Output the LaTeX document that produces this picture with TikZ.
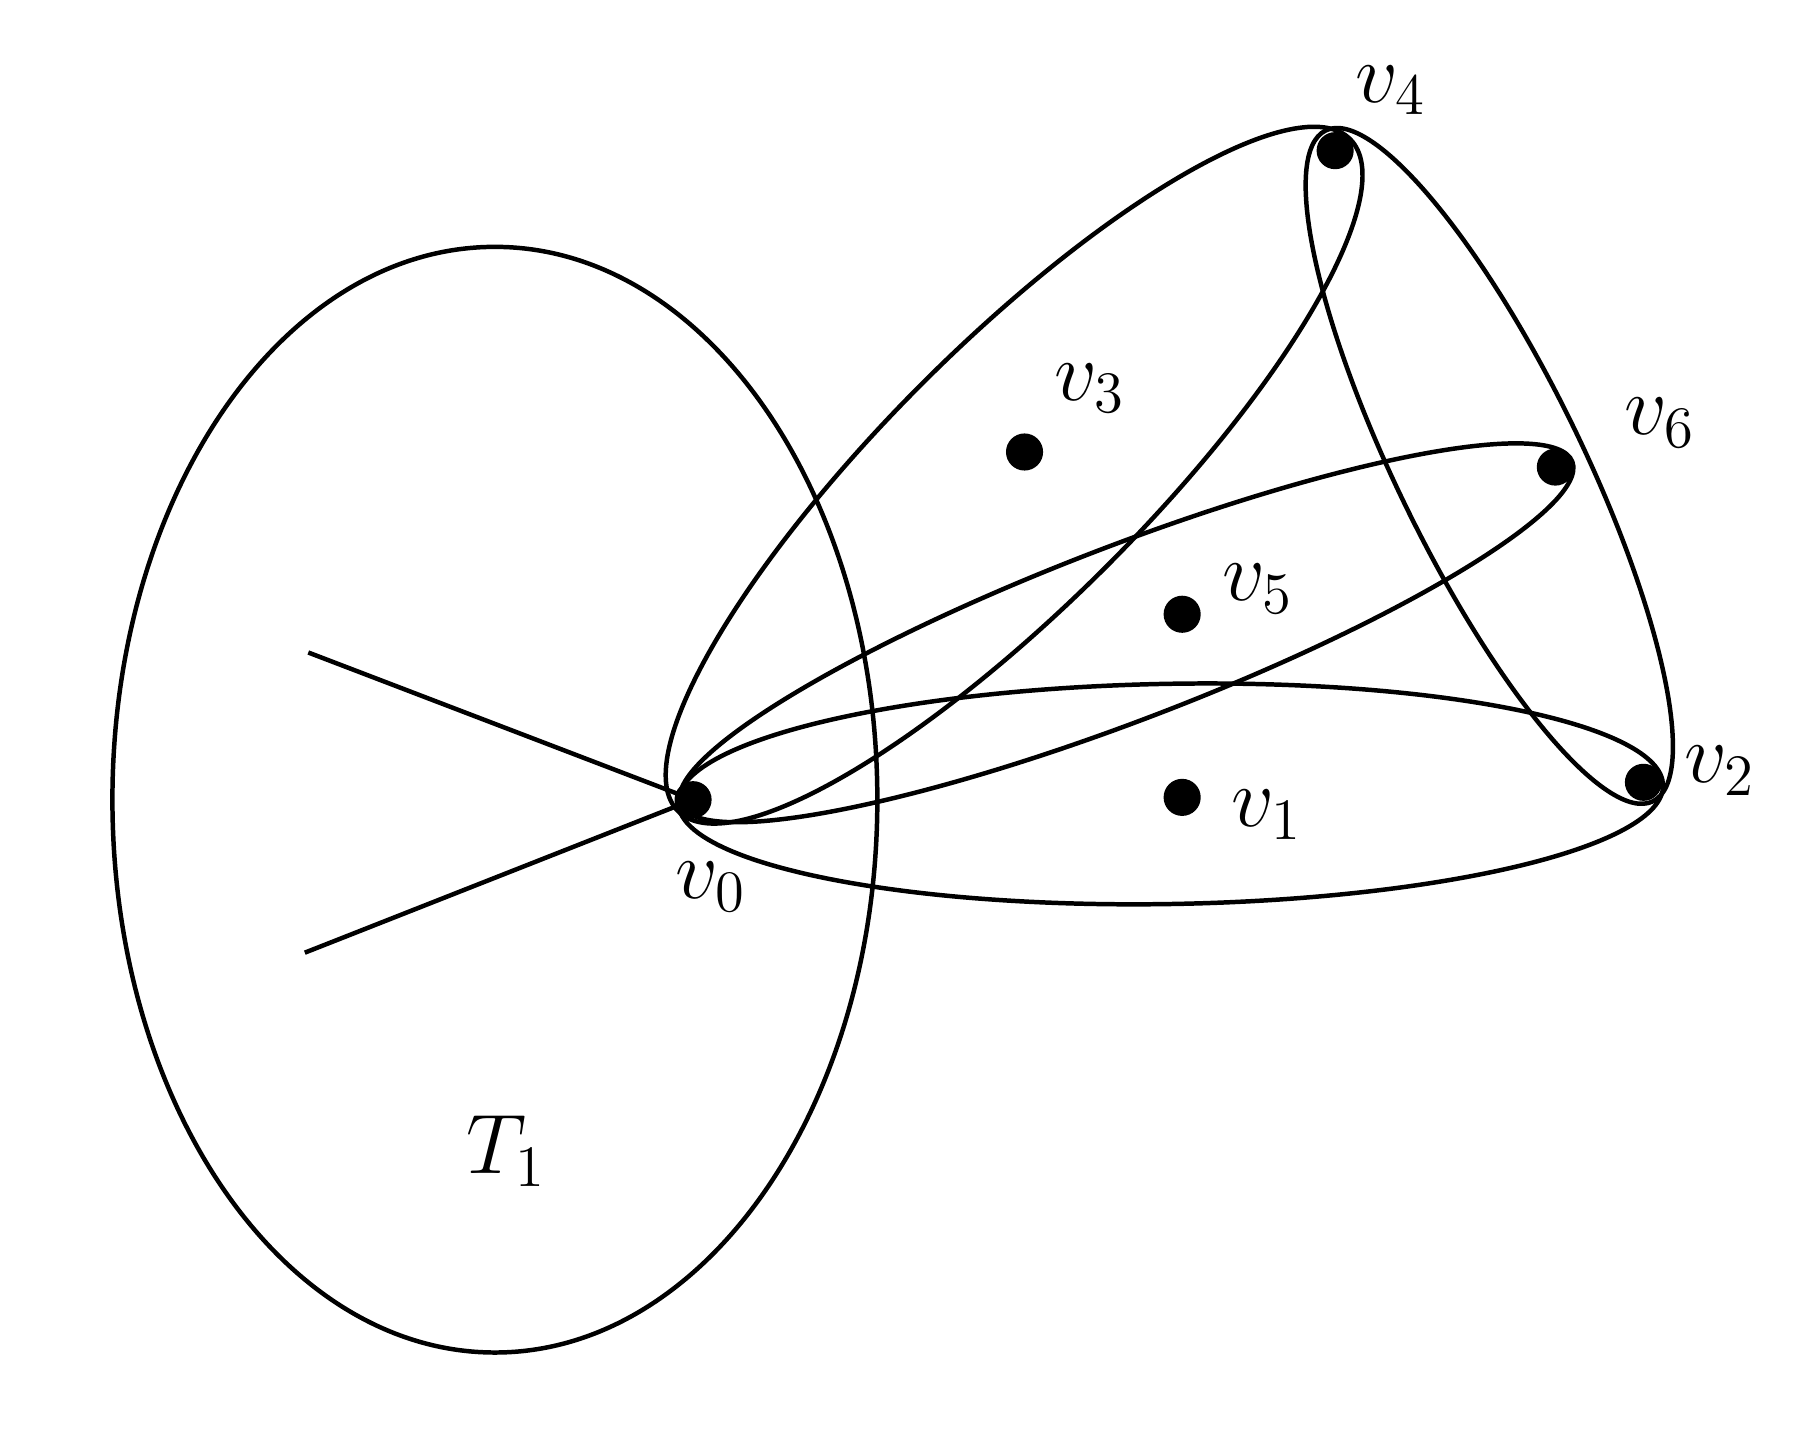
\documentclass[tikz,border=0pt]{standalone}
\usepackage{tikz}
\usetikzlibrary{positioning}

\begin{document}
\begin{tikzpicture}
    [x=0.01cm,y=-0.01cm,line width=1.1pt,
     vert/.style={circle,fill=black,inner sep=0pt,minimum size=0.32cm},
     lab/.style={font=\fontsize{21}{25}\selectfont}]

    \useasboundingbox (0,0) rectangle (1560,1243);

    % vertices
    \node[vert] (v0) at (598,690) {};
    \node[vert] (v1) at (1020,688) {};
    \node[vert] (v2) at (1418,675) {};
    \node[vert] (v3) at (884,390) {};
    \node[vert] (v4) at (1152,130) {};
    \node[vert] (v5) at (1020,530) {};
    \node[vert] (v6) at (1342,403) {};

    \node[lab] (l0) at (613,765) {$v_0$};
    \node[lab] (l1) at (1093,703) {$v_1$};
    \node[lab] (l2) at (1484,665) {$v_2$};
    \node[lab] (l3) at (940,335) {$v_3$};
    \node[lab] (l4) at (1200,78) {$v_4$};
    \node[lab] (l5) at (1085,508) {$v_5$};
    \node[lab] (l6) at (1432,365) {$v_6$};
    \node[lab] (t1) at (437,993) {$T_1$};

    % T1 and its edges
    \draw (427,690) ellipse [x radius=330, y radius=477];
    \coordinate (e1) at (266,563);
    \coordinate (e2) at (263,822);
    \draw (e1) -- (v0.center) -- (e2);

    % hyperedges
    \draw[rotate around={1:(1010,685)}] (1010,685) ellipse [x radius=425, y radius=95];
    \draw[rotate around={21:(972,546)}] (972,546) ellipse [x radius=412, y radius=75];
    \draw[rotate around={45:(875,410)}] (875,410) ellipse [x radius=410, y radius=112];
    \draw[rotate around={-64:(1285,402)}] (1285,402) ellipse [x radius=322, y radius=80];
\end{tikzpicture}
\end{document}
